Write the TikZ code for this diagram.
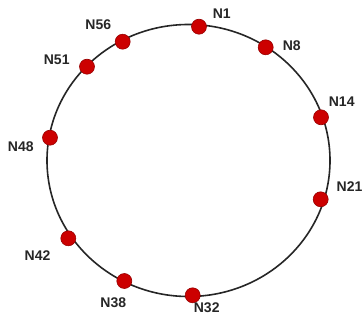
\documentclass[tikz,border=0pt]{standalone}
\usepackage{fontspec}
\setmainfont{Liberation Sans}
\begin{document}
\begin{tikzpicture}[x=1pt,y=-1pt,
  peer/.style={circle,fill=red!80!black,draw=red!60!black,line width=0.6pt,minimum size=15pt,inner sep=0pt},
  lbl/.style={font=\fontsize{14}{14}\selectfont\bfseries,text=black!85,inner sep=0pt},
  ring/.style={line width=1.6pt,draw=black!85}]
\useasboundingbox (0,0) rectangle (363,323);
\fill[white] (0,0) rectangle (363,323);
\draw[ring] (188.5,160.5) ellipse [x radius=141.5, y radius=136];
\node[peer] (n1) at (199,26.7) {};
\node[peer] (n8) at (265.7,47.3) {};
\node[peer] (n14) at (321,117.3) {};
\node[peer] (n21) at (320.7,199.3) {};
\node[peer] (n32) at (192.7,295.3) {};
\node[peer] (n38) at (124.3,281) {};
\node[peer] (n42) at (68.3,238.3) {};
\node[peer] (n48) at (50,137.7) {};
\node[peer] (n51) at (87,66.7) {};
\node[peer] (n56) at (122.7,41.7) {};
\node[lbl] (l1) at (221.7,13.3) {N1};
\node[lbl] (l8) at (291.7,45.8) {N8};
\node[lbl] (l14) at (341.7,101.7) {N14};
\node[lbl] (l21) at (349.5,186.7) {N21};
\node[lbl] (l32) at (206.7,307.5) {N32};
\node[lbl] (l38) at (113.3,302.5) {N38};
\node[lbl] (l42) at (37.5,255.8) {N42};
\node[lbl] (l48) at (20.8,146.7) {N48};
\node[lbl] (l51) at (56.7,60) {N51};
\node[lbl] (l56) at (98.3,25) {N56};
\end{tikzpicture}
\end{document}
